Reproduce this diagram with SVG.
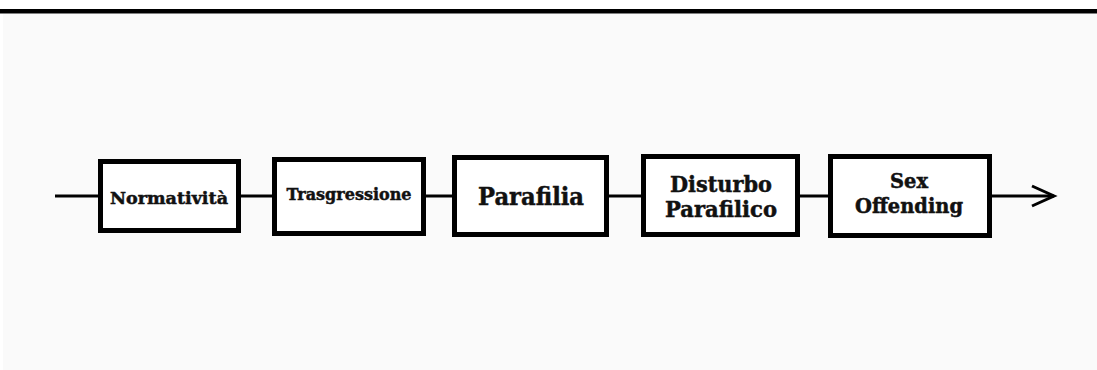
<svg xmlns="http://www.w3.org/2000/svg" width="1097" height="370" viewBox="0 0 1097 370">
<style>
.box{fill:#ffffff;stroke:#000000;stroke-width:5}
.t{font-family:"DejaVu Serif","Liberation Serif",serif;font-weight:bold;fill:#111111;stroke:#111111;stroke-width:0.5;text-anchor:middle}
.c{stroke:#000000;stroke-width:3;fill:none}
</style>
<rect x="0" y="0" width="1097" height="370" fill="#ffffff"/>
<rect x="3" y="14" width="1094" height="356" fill="#fafafa"/>
<rect x="0" y="9" width="1097" height="4.5" fill="#000000"/>
<g id="connectors">
<line class="c" x1="55" y1="196" x2="100" y2="196"/>
<line class="c" x1="239" y1="196" x2="274" y2="196"/>
<line class="c" x1="424" y1="196" x2="454" y2="196"/>
<line class="c" x1="607" y1="196" x2="643" y2="196"/>
<line class="c" x1="798" y1="196" x2="830" y2="196"/>
<line class="c" x1="990" y1="196" x2="1054" y2="196"/>
<polyline class="c" points="1032,186 1054,196 1032,206"/>
</g>
<g id="n1">
<rect class="box" x="100.5" y="161.5" width="138" height="69"/>
<text class="t" x="169" y="204" font-size="17" textLength="118" lengthAdjust="spacingAndGlyphs">Normatività</text>
</g>
<g id="n2">
<rect class="box" x="274.5" y="159.5" width="149" height="74"/>
<text class="t" x="349" y="200" font-size="17.5" textLength="125" lengthAdjust="spacingAndGlyphs">Trasgressione</text>
</g>
<g id="n3">
<rect class="box" x="454.5" y="157.5" width="152" height="77"/>
<text class="t" x="531" y="205" font-size="24" textLength="106" lengthAdjust="spacingAndGlyphs">Parafilia</text>
</g>
<g id="n4">
<rect class="box" x="643.5" y="156.5" width="154" height="78"/>
<text class="t" x="721" y="192" font-size="22" textLength="102" lengthAdjust="spacingAndGlyphs">Disturbo</text>
<text class="t" x="721" y="217" font-size="22" textLength="112" lengthAdjust="spacingAndGlyphs">Parafilico</text>
</g>
<g id="n5">
<rect class="box" x="830.5" y="156.5" width="159" height="79"/>
<text class="t" x="909" y="188" font-size="21" textLength="38" lengthAdjust="spacingAndGlyphs">Sex</text>
<text class="t" x="909" y="213" font-size="21" textLength="108" lengthAdjust="spacingAndGlyphs">Offending</text>
</g>
</svg>
